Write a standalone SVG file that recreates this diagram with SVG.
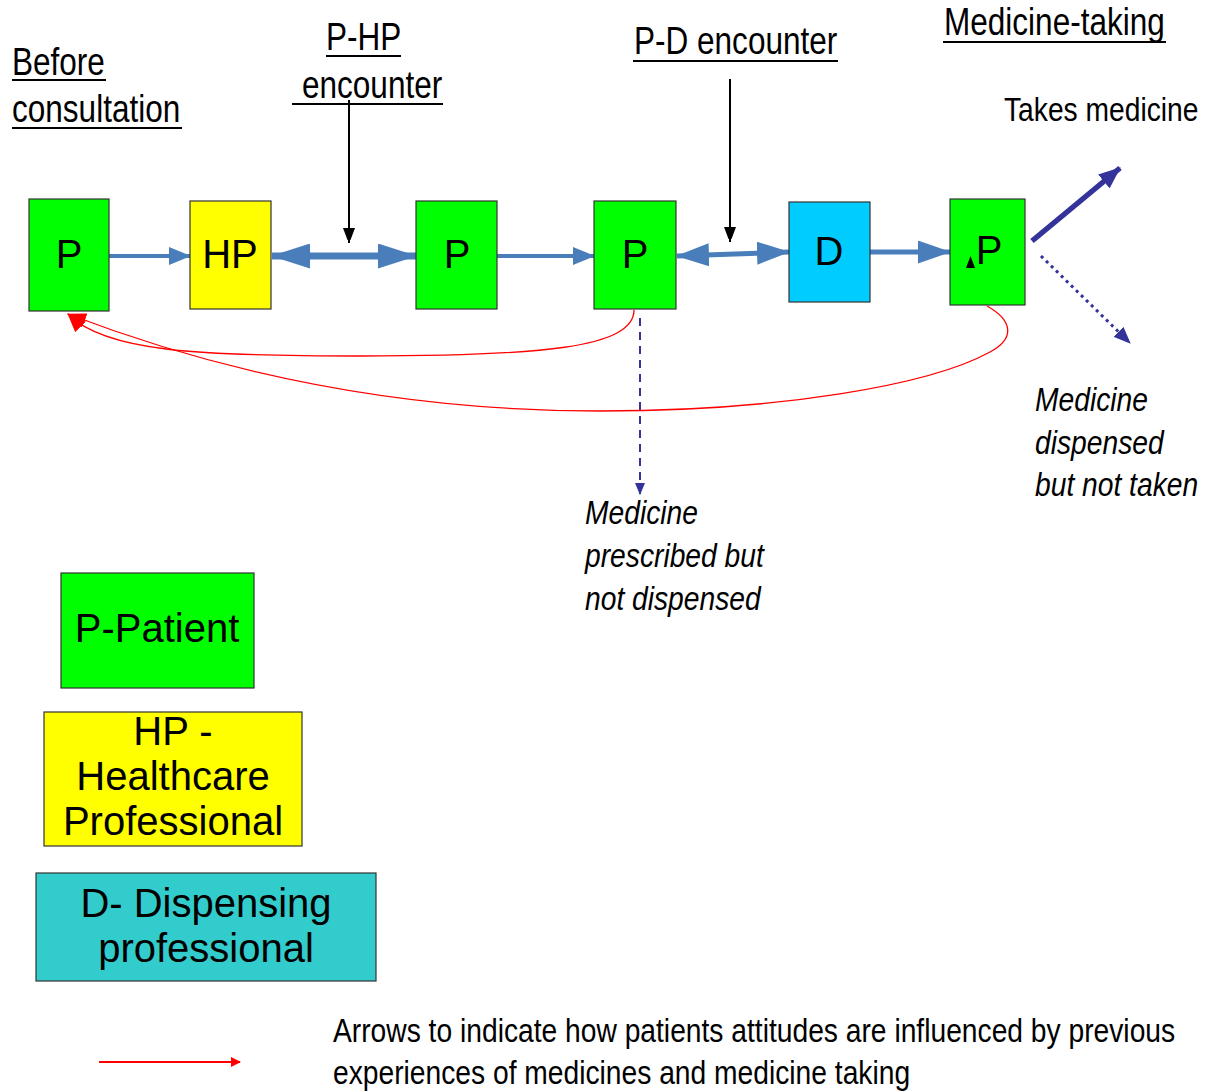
<svg xmlns="http://www.w3.org/2000/svg" width="1217" height="1092" viewBox="0 0 1217 1092">
<style>
.box{stroke:#333;stroke-width:1.2}
.pf{fill:#00ff00}.hf{fill:#ffff00}.df{fill:#00ccff}.tf{fill:#33cccc}
.lbl{font-family:"Liberation Sans",Arial,sans-serif;font-size:40px;fill:#000;text-anchor:middle}
.nar{font-family:"Liberation Sans",Arial,sans-serif;font-size:38px;fill:#000}
.sm{font-size:34px}
.it{font-family:"Liberation Sans",Arial,sans-serif;font-style:italic;font-size:34px;fill:#000}
.ul{stroke:#000;stroke-width:2.2}
.blue{stroke:#4a7ebb;fill:none}
.navy{stroke:#333399;fill:none}
.red{stroke:#ff0000;fill:none;stroke-width:1.3}
.blk{stroke:#000;stroke-width:2;fill:none}
</style>
<defs>
<marker id="bS" markerUnits="userSpaceOnUse" markerWidth="22" markerHeight="18" refX="21" refY="9" orient="auto-start-reverse"><path d="M0,0 L22,9 L0,18z" fill="#4a7ebb"/></marker>
<marker id="bM" markerUnits="userSpaceOnUse" markerWidth="33" markerHeight="23" refX="32" refY="11.5" orient="auto-start-reverse"><path d="M0,0 L33,11.5 L0,23z" fill="#4a7ebb"/></marker>
<marker id="bL" markerUnits="userSpaceOnUse" markerWidth="39" markerHeight="25" refX="38" refY="12.5" orient="auto-start-reverse"><path d="M0,0 L39,12.5 L0,25z" fill="#4a7ebb"/></marker>
<marker id="kA" markerUnits="userSpaceOnUse" markerWidth="12" markerHeight="16" refX="15" refY="6" orient="auto"><path d="M0,0 L16,6 L0,12z" fill="#000"/></marker>
<marker id="nL" markerUnits="userSpaceOnUse" markerWidth="22" markerHeight="18" refX="21" refY="9" orient="auto"><path d="M0,0 L22,9 L0,18z" fill="#333399"/></marker>
<marker id="nM" markerUnits="userSpaceOnUse" markerWidth="17" markerHeight="14" refX="16" refY="7" orient="auto"><path d="M0,0 L17,7 L0,14z" fill="#333399"/></marker>
<marker id="nS" markerUnits="userSpaceOnUse" markerWidth="12" markerHeight="10" refX="11" refY="5" orient="auto"><path d="M0,0 L12,5 L0,10z" fill="#333399"/></marker>
<marker id="rA" markerUnits="userSpaceOnUse" markerWidth="19" markerHeight="15" refX="18" refY="7.5" orient="auto"><path d="M0,0 L19,7.5 L0,15z" fill="#ff0000"/></marker>
<marker id="rS" markerUnits="userSpaceOnUse" markerWidth="10" markerHeight="10" refX="9" refY="5" orient="auto"><path d="M0,0 L10,5 L0,10z" fill="#ff0000"/></marker>
</defs>

<g id="headings">
<text class="nar" transform="translate(12,75) scale(0.83,1)">Before</text>
<line class="ul" x1="12" y1="80" x2="106" y2="80"/>
<text class="nar" transform="translate(12,122) scale(0.83,1)">consultation</text>
<line class="ul" x1="12" y1="128" x2="182" y2="128"/>
<text class="nar" transform="translate(326,50) scale(0.83,1)">P-HP</text>
<line class="ul" x1="326" y1="56" x2="401" y2="56"/>
<text class="nar" transform="translate(302,98) scale(0.83,1)">encounter</text>
<line class="ul" x1="292" y1="104" x2="443" y2="104"/>
<text class="nar" transform="translate(634,54) scale(0.83,1)">P-D encounter</text>
<line class="ul" x1="633" y1="61" x2="838" y2="61"/>
<text class="nar" transform="translate(944,35) scale(0.83,1)">Medicine-taking</text>
<line class="ul" x1="943" y1="42" x2="1166" y2="42"/>
<text class="nar sm" transform="translate(1004,121) scale(0.83,1)">Takes medicine</text>
</g>

<g id="outcome-dispensed-not-taken">
<text class="it" transform="translate(1035,411) scale(0.83,1)">Medicine</text>
<text class="it" transform="translate(1035,454) scale(0.83,1)">dispensed</text>
<text class="it" transform="translate(1035,496) scale(0.83,1)">but not taken</text>
</g>
<g id="outcome-prescribed-not-dispensed">
<text class="it" transform="translate(585,524) scale(0.83,1)">Medicine</text>
<text class="it" transform="translate(585,567) scale(0.83,1)">prescribed but</text>
<text class="it" transform="translate(585,610) scale(0.83,1)">not dispensed</text>
</g>

<g id="connectors">
<line class="blue" x1="109" y1="256" x2="190" y2="256" stroke-width="4" marker-end="url(#bS)"/>
<line class="blue" x1="272" y1="256" x2="416" y2="256" stroke-width="7" marker-start="url(#bL)" marker-end="url(#bL)"/>
<line class="blue" x1="497" y1="256" x2="594" y2="256" stroke-width="4" marker-end="url(#bS)"/>
<line class="blue" x1="677" y1="256" x2="789" y2="252" stroke-width="5" marker-start="url(#bM)" marker-end="url(#bM)"/>
<line class="blue" x1="870" y1="252" x2="950" y2="252" stroke-width="5" marker-end="url(#bM)"/>
<line class="blk" x1="349" y1="100" x2="349" y2="243" marker-end="url(#kA)"/>
<line class="blk" x1="730" y1="79" x2="730" y2="242" marker-end="url(#kA)"/>
<line class="navy" x1="1032" y1="241" x2="1120" y2="168" stroke-width="5.5" marker-end="url(#nL)"/>
<line class="navy" x1="1041" y1="256" x2="1130" y2="343" stroke-width="3" stroke-dasharray="3,4" marker-end="url(#nM)"/>
<line class="navy" x1="640" y1="318" x2="640" y2="494" stroke-width="2" stroke-dasharray="8,6" marker-end="url(#nS)"/>
<path class="red" d="M634,310 C634,348 540,356 360,356 C200,356 105,352 68,314" marker-end="url(#rA)"/>
<path class="red" d="M987,306 C1012,320 1016,338 990,352 C930,385 780,411 600,411 C420,411 240,380 68,314" marker-end="url(#rA)"/>
</g>

<g id="node-p1"><rect class="box pf" x="29" y="199" width="80" height="112"/><text class="lbl" x="69" y="268">P</text></g>
<g id="node-hp"><rect class="box hf" x="190" y="201" width="81" height="108"/><text class="lbl" x="230" y="268">HP</text></g>
<g id="node-p2"><rect class="box pf" x="416" y="201" width="81" height="108"/><text class="lbl" x="457" y="268">P</text></g>
<g id="node-p3"><rect class="box pf" x="594" y="201" width="82" height="108"/><text class="lbl" x="635" y="268">P</text></g>
<g id="node-d"><rect class="box df" x="789" y="202" width="81" height="100"/><text class="lbl" x="829" y="265">D</text></g>
<g id="node-p4"><rect class="box pf" x="950" y="199" width="75" height="106"/><text class="lbl" x="989" y="264">P</text><polygon points="966,268 975,268 970.5,256" fill="#000"/></g>

<g id="legend-patient"><rect class="box pf" x="61" y="573" width="193" height="115"/><text class="lbl" x="157" y="642">P-Patient</text></g>
<g id="legend-hp"><rect class="box hf" x="44" y="712" width="258" height="134"/><text class="lbl" x="173" y="745">HP -</text><text class="lbl" x="173" y="790">Healthcare</text><text class="lbl" x="173" y="835">Professional</text></g>
<g id="legend-d"><rect class="box tf" x="36" y="873" width="340" height="108"/><text class="lbl" x="206" y="917">D- Dispensing</text><text class="lbl" x="206" y="962">professional</text></g>
<g id="legend-arrow">
<line x1="99" y1="1062" x2="240" y2="1062" stroke="#ff0000" stroke-width="2" marker-end="url(#rS)"/>
<text class="nar sm" transform="translate(333,1042) scale(0.83,1)">Arrows to indicate how patients attitudes are influenced by previous</text>
<text class="nar sm" transform="translate(333,1084) scale(0.83,1)">experiences of medicines and medicine taking</text>
</g>
</svg>
